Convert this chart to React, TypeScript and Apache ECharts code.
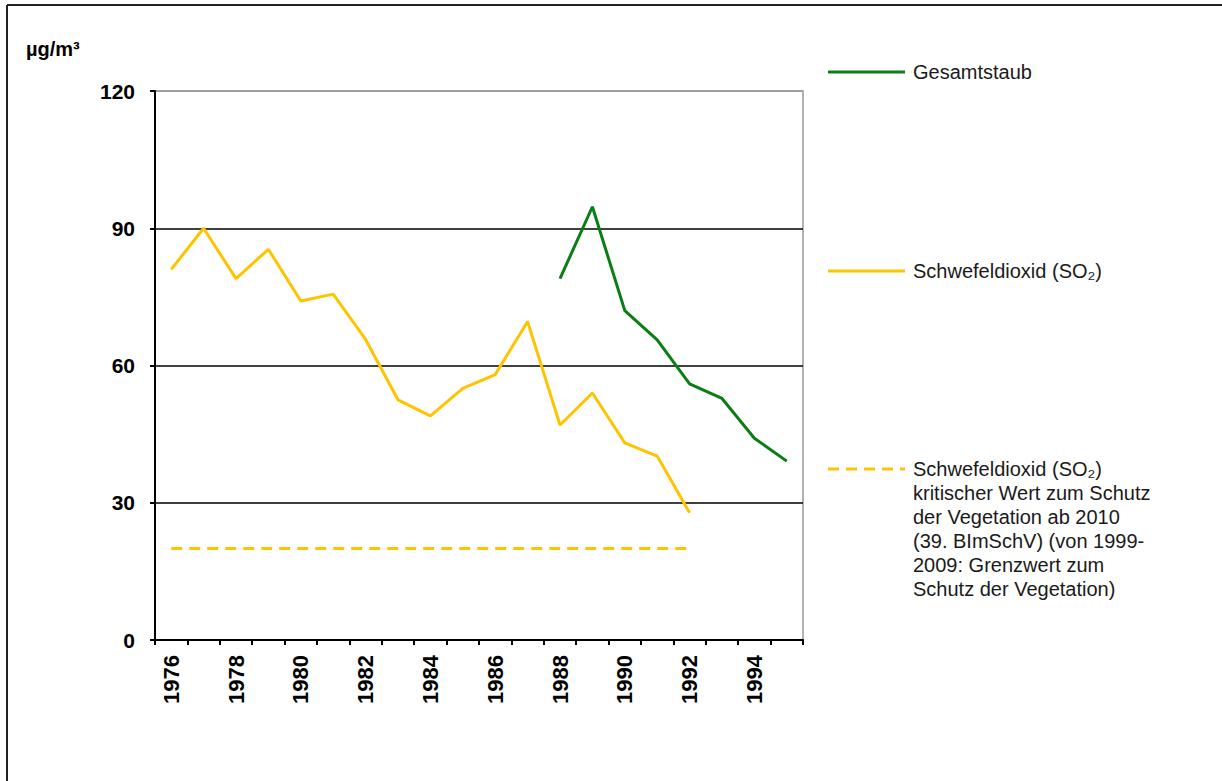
import React, { useEffect, useRef } from "react";
import * as echarts from "echarts";

const years = [
  "1976", "1977", "1978", "1979", "1980", "1981", "1982", "1983", "1984", "1985",
  "1986", "1987", "1988", "1989", "1990", "1991", "1992", "1993", "1994", "1995",
];
const gesamtstaub = [
  null, null, null, null, null, null, null, null, null, null,
  null, null, 79, 94.7, 72, 65.6, 56, 52.8, 44.1, 39.1,
];
const so2 = [
  81, 90, 79, 85.4, 74.1, 75.6, 65.7, 52.5, 49, 55,
  58, 69.6, 47, 54, 43.1, 40.2, 27.8, null, null, null,
];
const so2Limit = [
  20, 20, 20, 20, 20, 20, 20, 20, 20, 20,
  20, 20, 20, 20, 20, 20, 20, null, null, null,
];
const yTicks = { min: 0, max: 120, interval: 30 };
const legendNames = [
  "Gesamtstaub",
  "Schwefeldioxid (SO₂)",
  "Schwefeldioxid (SO₂)\nkritischer Wert zum Schutz\nder Vegetation ab 2010\n(39. BImSchV) (von 1999-\n2009: Grenzwert zum\nSchutz der Vegetation)",
];

const GREEN = "#0a7d14";
const GOLD = "#ffc400";
const FONT = "Arial, 'Liberation Sans', sans-serif";

export default function App() {
  const ref = useRef<HTMLDivElement>(null);
  useEffect(() => {
    document.body.style.margin = "0";
    const chart = echarts.init(ref.current!, null, { renderer: "svg" });
    const legendY = [72, 271, 469];
    const legendColors = [GREEN, GOLD, GOLD];
    const legendDash: any[] = ["solid", "solid", [11, 7]];
    const graphic: any[] = [
      { type: "line", shape: { x1: 7, y1: 5, x2: 1222, y2: 5 }, style: { stroke: "#222", lineWidth: 2 } },
      { type: "line", shape: { x1: 7, y1: 5, x2: 7, y2: 781 }, style: { stroke: "#222", lineWidth: 2 } },
      {
        type: "text",
        x: 26,
        y: 39,
        style: { text: "µg/m³", font: `bold 20px ${FONT}`, fill: "#000", textVerticalAlign: "top" },
      },
    ];
    legendNames.forEach((name, i) => {
      graphic.push({
        type: "line",
        shape: { x1: 828, y1: legendY[i], x2: 905, y2: legendY[i] },
        style: { stroke: legendColors[i], lineWidth: 3, lineDash: legendDash[i] === "solid" ? null : legendDash[i] },
      });
      graphic.push({
        type: "text",
        x: 913,
        y: legendY[i] - 12,
        style: {
          text: name,
          font: `20px ${FONT}`,
          fill: "#1a1a1a",
          lineHeight: 24,
          textVerticalAlign: "top",
        },
      });
    });
    chart.setOption({
      animation: false,
      backgroundColor: "#fff",
      grid: {
        left: 155,
        top: 91,
        width: 648,
        height: 549,
        show: true,
        borderColor: "#999",
        borderWidth: 1.5,
        containLabel: false,
      },
      xAxis: {
        type: "category",
        data: years,
        boundaryGap: true,
        axisLine: { lineStyle: { color: "#000", width: 2 } },
        axisTick: { show: true, interval: 0, length: 5, lineStyle: { color: "#000", width: 2 } },
        axisLabel: {
          interval: 1,
          rotate: 90,
          margin: 15,
          color: "#000",
          fontWeight: "bold",
          fontSize: 22,
          fontFamily: FONT,
        },
        splitLine: { show: false },
      },
      yAxis: {
        type: "value",
        min: yTicks.min,
        max: yTicks.max,
        interval: yTicks.interval,
        axisLine: { show: true, lineStyle: { color: "#000", width: 2 } },
        axisTick: { show: true, length: 5, lineStyle: { color: "#000", width: 2 } },
        axisLabel: {
          margin: 20,
          color: "#000",
          fontWeight: "bold",
          fontSize: 21,
          fontFamily: FONT,
        },
        splitLine: {
          show: true,
          lineStyle: { color: ["transparent", "#000", "#000", "#000", "#999"], width: 1.5 },
        },
      },
      series: [
        {
          name: legendNames[0],
          type: "line",
          data: gesamtstaub,
          symbol: "none",
          lineStyle: { color: GREEN, width: 3 },
          itemStyle: { color: GREEN },
          z: 3,
        },
        {
          name: legendNames[1],
          type: "line",
          data: so2,
          symbol: "none",
          lineStyle: { color: GOLD, width: 3 },
          itemStyle: { color: GOLD },
          z: 2,
        },
        {
          name: "Schwefeldioxid (SO₂) kritischer Wert",
          type: "line",
          data: so2Limit,
          symbol: "none",
          lineStyle: { color: GOLD, width: 3, type: [11, 7] },
          itemStyle: { color: GOLD },
          z: 2,
        },
      ],
      graphic,
    });
    return () => chart.dispose();
  }, []);
  return (
    <div
      ref={ref}
      style={{ position: "absolute", left: 0, top: 0, width: 1222, height: 781 }}
    />
  );
}
